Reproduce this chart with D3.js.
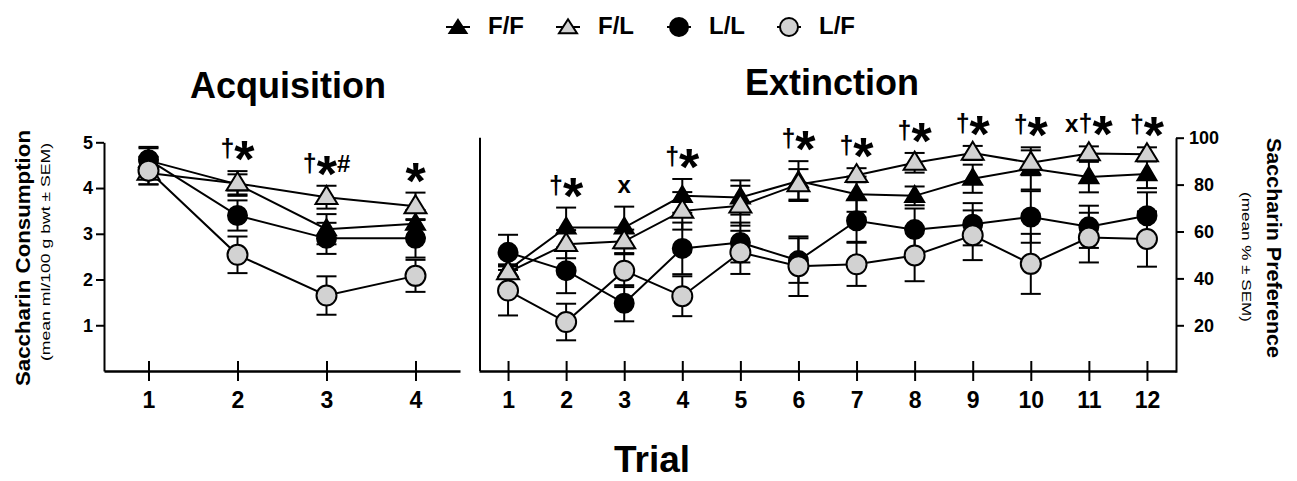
<!DOCTYPE html>
<html><head><meta charset="utf-8">
<script src="https://cdn.jsdelivr.net/npm/d3@7"></script>
<style>
body{margin:0;background:#fff}
svg{display:block}
text{font-family:"Liberation Sans",Arial,Helvetica,sans-serif;fill:#000}
</style>
</head><body>
<svg id="chart" width="1297" height="481"></svg>
<script>
// ---------------- data ----------------
const groups = ["F/F", "F/L", "L/L", "L/F"];
const acqTrials = [1, 2, 3, 4];
const extTrials = [1, 2, 3, 4, 5, 6, 7, 8, 9, 10, 11, 12];

// Acquisition: saccharin consumption (ml/100 g bwt)
const acqFF = [4.6, 4.08, 3.1, 3.22];
const acqFFsem = [0.27, 0.22, 0.33, 0.3];
const acqFL = [4.33, 4.1, 3.8, 3.6];
const acqFLsem = [0.25, 0.27, 0.25, 0.3];
const acqLL = [4.62, 3.4, 2.9, 2.9];
const acqLLsem = [0.28, 0.33, 0.34, 0.42];
const acqLF = [4.38, 2.54, 1.65, 2.08];
const acqLFsem = [0.3, 0.4, 0.42, 0.35];

// Extinction: saccharin preference (%)
const extFF = [43.5, 61.7, 61.7, 75.2, 74.5, 81.5, 75.9, 75.2, 82.5, 86.9, 83.2, 84.5];
const extFFsem = [2.5, 8.5, 8.9, 7.2, 7.3, 8.5, 7.5, 4, 6, 9, 6.5, 6];
const extFL = [42.6, 54.6, 55.8, 68.8, 71, 80.1, 84, 89.3, 93.5, 89.3, 93.3, 92.9];
const extFLsem = [2.5, 6, 5, 8, 8.5, 6.5, 3, 4.2, 3, 5.3, 3, 3];
const extLL = [51.1, 43.3, 29.4, 52.8, 55.3, 47.6, 64.6, 60.8, 63.1, 66.2, 62, 66.7];
const extLLsem = [7.5, 9.6, 7.7, 11, 8.5, 9.5, 9, 9, 9, 11, 9, 10];
const extLF = [34.8, 21.4, 43.3, 32.4, 51.1, 45.2, 46, 49.8, 58.4, 46.2, 57.4, 56.8];
const extLFsem = [10.6, 7.8, 7, 8.5, 9.2, 12.7, 9.2, 11, 10.6, 12.8, 10.6, 11.8];

// significance marks per trial
const acqSig = ["", "†*", "†*#", "*"];
const extSig = ["", "†*", "x", "†*", "", "†*", "†*", "†*", "†*", "†*", "x†*", "†*"];

// tick labels
const consTicks = [1, 2, 3, 4, 5];
const prefTicks = [20, 40, 60, 80, 100];

// text
const titleAcq = "Acquisition";
const titleExt = "Extinction";
const yLeftTitle = "Saccharin Consumption";
const yLeftSub = "(mean ml/100 g bwt ± SEM)";
const yRightTitle = "Saccharin Preference";
const yRightSub = "(mean % ± SEM)";
const xTitle = "Trial";

// ---------------- build ----------------
const acqData = {
  "F/F": {m: acqFF, s: acqFFsem}, "F/L": {m: acqFL, s: acqFLsem},
  "L/L": {m: acqLL, s: acqLLsem}, "L/F": {m: acqLF, s: acqLFsem}
};
const extData = {
  "F/F": {m: extFF, s: extFFsem}, "F/L": {m: extFL, s: extFLsem},
  "L/L": {m: extLL, s: extLLsem}, "L/F": {m: extLF, s: extLFsem}
};
const style = {
  "F/F": {shape: "tri", fill: "#000"},
  "F/L": {shape: "tri", fill: "#d2d2d2"},
  "L/L": {shape: "circ", fill: "#000"},
  "L/F": {shape: "circ", fill: "#d2d2d2"}
};
const drawOrder = ["F/F", "L/L", "F/L", "L/F"];

const svg = d3.select("#chart");

function markerPath(g, shape, fill, big) {
  if (shape === "tri") {
    const w = fill === "#000" ? (big ? 19 : 17) : (big ? 22 : 18);
    const h = fill === "#000" ? (big ? 16 : 13) : (big ? 18 : 14);
    return g.append("path")
      .attr("d", `M0,${-h * 0.62}L${w / 2},${h * 0.38}L${-w / 2},${h * 0.38}Z`)
      .attr("fill", fill).attr("stroke", "#000").attr("stroke-width", 2)
      .attr("stroke-linejoin", "miter");
  }
  const r = big ? (fill === "#000" ? 9.5 : 10) : 9;
  return g.append("circle").attr("r", r)
    .attr("fill", fill).attr("stroke", "#000").attr("stroke-width", 2);
}

function sigText(sel, str) {
  let shift = 0;
  for (const ch of str) {
    const t = sel.append("tspan").text(ch);
    if (ch === "*") {
      t.attr("font-size", 52).attr("dy", 20 - shift); shift = 20;
    } else {
      const fs = ch === "x" ? 24 : (ch === "#" ? 24 : 25);
      t.attr("font-size", fs).attr("dy", -shift); shift = 0;
    }
  }
}

function drawPanel(trials, data, sig, x, y) {
  const g = svg.append("g");
  // error bars
  drawOrder.forEach(k => {
    const d = data[k];
    trials.forEach((t, i) => {
      const xi = x(t), y1 = y(d.m[i] - d.s[i]), y2 = y(d.m[i] + d.s[i]);
      g.append("line").attr("x1", xi).attr("x2", xi).attr("y1", y1).attr("y2", y2)
        .attr("stroke", "#000").attr("stroke-width", 2);
      [y1, y2].forEach(yy => g.append("line").attr("x1", xi - 10).attr("x2", xi + 10)
        .attr("y1", yy).attr("y2", yy).attr("stroke", "#000").attr("stroke-width", 2));
    });
  });
  // lines
  const line = d3.line().x(d => x(d[0])).y(d => y(d[1]));
  drawOrder.forEach(k => {
    g.append("path").datum(trials.map((t, i) => [t, data[k].m[i]]))
      .attr("d", line).attr("fill", "none").attr("stroke", "#000").attr("stroke-width", 2);
  });
  // markers
  drawOrder.forEach(k => {
    trials.forEach((t, i) => {
      const mg = g.append("g").attr("transform", `translate(${x(t)},${y(data[k].m[i])})`);
      markerPath(mg, style[k].shape, style[k].fill, true);
    });
  });
  // significance
  trials.forEach((t, i) => {
    if (!sig[i]) return;
    const top = d3.min(groups, k => y(data[k].m[i] + data[k].s[i]));
    const tx = g.append("text").attr("x", x(t)).attr("y", top - 14)
      .attr("text-anchor", "middle").attr("font-weight", "bold");
    sigText(tx, sig[i]);
  });
}

// ---------------- scales ----------------
const xL = d3.scaleLinear().domain([0.5, 4.5]).range([104, 460]);
const yL = d3.scaleLinear().domain([0, 5]).range([371, 142.3]);
const xR = d3.scaleLinear().domain([0.5, 12.5]).range([479, 1176]);
const yR = d3.scaleLinear().domain([0, 100]).range([372.2, 137.7]);

// ---------------- axes ----------------
function xAxis(x, trials) {
  const ax = svg.append("g").attr("transform", "translate(0,371)")
    .call(d3.axisBottom(x).tickValues(trials).tickFormat(d3.format("d")).tickSize(10).tickSizeOuter(0));
  ax.select(".domain").attr("stroke-width", 2.5);
  ax.selectAll(".tick line").attr("y1", -10).attr("y2", 10).attr("stroke-width", 2);
  ax.selectAll(".tick text").attr("y", 37).attr("dy", 0)
    .attr("font-size", 23).attr("font-weight", "bold").attr("font-family", null);
}
xAxis(xL, acqTrials);
xAxis(xR, extTrials);

const axL = svg.append("g").attr("transform", "translate(104,0)")
  .call(d3.axisLeft(yL).tickValues(consTicks).tickFormat(d3.format("d")).tickSize(8).tickPadding(3).tickSizeOuter(0));
axL.select(".domain").attr("stroke-width", 2);
axL.selectAll(".tick line").attr("stroke-width", 2);
axL.selectAll(".tick text").attr("font-size", 18).attr("font-weight", "bold").attr("font-family", null);

const axR = svg.append("g").attr("transform", "translate(1176,0)")
  .call(d3.axisRight(yR).tickValues(prefTicks).tickFormat(d3.format("d")).tickSize(8).tickSizeOuter(0));
axR.select(".domain").attr("stroke-width", 2);
axR.selectAll(".tick line").attr("stroke-width", 2);
axR.selectAll(".tick text").attr("x", 28).attr("text-anchor", "middle")
  .attr("font-size", 18).attr("font-weight", "bold").attr("font-family", null);

// left frame line of extinction panel
svg.append("line").attr("x1", 480).attr("x2", 480).attr("y1", yR(100)).attr("y2", 371)
  .attr("stroke", "#000").attr("stroke-width", 2);

// ---------------- panels ----------------
drawPanel(acqTrials, acqData, acqSig, xL, yL);
drawPanel(extTrials, extData, extSig, xR, yR);

// ---------------- titles ----------------
svg.append("text").attr("x", 288).attr("y", 98).attr("text-anchor", "middle")
  .attr("font-size", 36).attr("font-weight", "bold").text(titleAcq);
svg.append("text").attr("x", 832).attr("y", 95).attr("text-anchor", "middle")
  .attr("font-size", 36).attr("font-weight", "bold").text(titleExt);
svg.append("text").attr("x", 652).attr("y", 472).attr("text-anchor", "middle")
  .attr("font-size", 37).attr("font-weight", "bold").text(xTitle);

function rotText(x, y, angle, str, size, weight, len) {
  svg.append("text").attr("transform", `translate(${x},${y}) rotate(${angle})`)
    .attr("text-anchor", "middle").attr("font-size", size).attr("font-weight", weight)
    .attr("textLength", len).attr("lengthAdjust", "spacingAndGlyphs").text(str);
}
rotText(30, 258, -90, yLeftTitle, 20, "bold", 256);
rotText(50, 252, -90, yLeftSub, 13, "normal", 218);
rotText(1267, 248, 90, yRightTitle, 20, "bold", 220);
rotText(1242, 257, 90, yRightSub, 13, "normal", 130);

// ---------------- legend ----------------
const legX = [458, 568, 679, 789];
groups.forEach((k, i) => {
  const cx = legX[i], cy = 27;
  svg.append("line").attr("x1", cx - 12).attr("x2", cx + 12).attr("y1", cy).attr("y2", cy)
    .attr("stroke", "#000").attr("stroke-width", 2);
  const mg = svg.append("g").attr("transform", `translate(${cx},${cy + (style[k].shape === "tri" ? 1 : 0)})`);
  markerPath(mg, style[k].shape, style[k].fill, false);
  svg.append("text").attr("x", cx + 30).attr("y", 34).attr("font-size", 24)
    .attr("font-weight", "bold").text(k);
});
</script>
</body></html>
